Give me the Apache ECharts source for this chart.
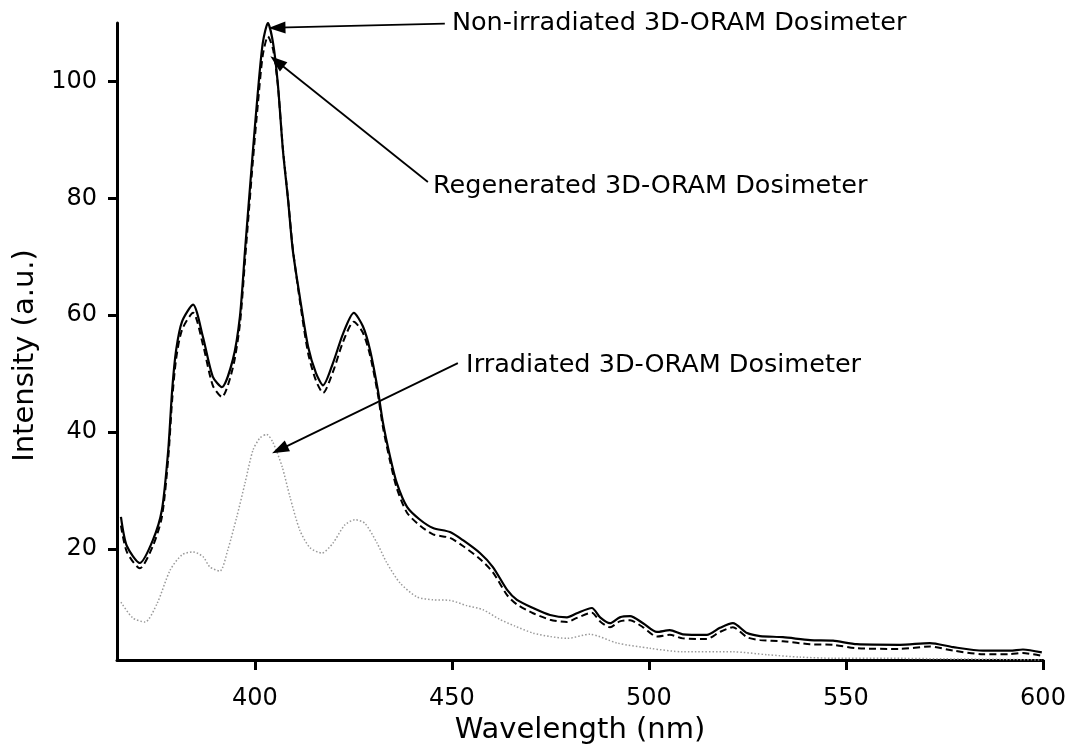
<!DOCTYPE html>
<html>
<head>
<meta charset="utf-8">
<script src="https://cdn.jsdelivr.net/npm/echarts@6/dist/echarts.min.js"></script>
<style>
html,body{margin:0;padding:0;background:#fff;}
#chart{width:1071px;height:750px;}
</style>
</head>
<body>
<div id="chart"></div>
<script>
// ---- data ----
const xTicks = [400, 450, 500, 550, 600];
const yTicks = [20, 40, 60, 80, 100];

const nonIrrX = [366.0,367.5,370.8,374.1,376.4,378.0,379.0,380.0,381.5,384.3,386.8,389.3,391.6,394.4,396.2,397.5,399.5,400.8,402.0,403.3,404.6,405.8,407.1,408.4,409.6,411.4,413.5,415.5,417.3,419.8,422.4,425.1,427.4,429.2,431.2,432.5,434.3,436.0,438.6,441.9,445.2,449.5,452.8,457.1,460.4,464.0,466.5,470.6,474.9,479.2,481.7,485.5,487.6,490.1,492.6,495.2,498.5,502.0,505.3,508.6,514.7,518.0,521.3,524.9,528.2,534.0,540.9,546.7,552.8,563.7,571.3,577.2,584.8,591.6,594.9,599.7];
const nonIrrY = [25.5,20.5,17.6,21.5,26.7,36.9,47.2,54.0,58.9,61.8,56.3,49.5,47.7,52.4,59.8,71.2,88.2,98.6,106.6,110.0,106.6,99.7,88.3,79.8,71.2,63.1,54.6,50.1,48.0,51.8,56.9,60.4,58.1,54.1,47.2,41.6,35.8,31.3,27.2,25.0,23.6,22.9,21.5,19.3,16.9,13.0,11.3,9.9,8.7,8.3,9.0,9.9,8.3,7.3,8.3,8.5,7.3,5.8,6.1,5.4,5.3,6.5,7.3,5.6,5.1,4.9,4.4,4.3,3.7,3.6,3.9,3.2,2.6,2.6,2.8,2.3];

const regenX = nonIrrX;
const regenY = [24.0,19.5,16.7,20.5,25.5,35.5,45.5,52.5,57.5,60.4,55.0,48.0,46.0,51.0,58.5,69.5,86.5,96.5,104.5,107.7,105.5,99.5,88.5,80.0,71.5,62.5,53.5,48.8,46.7,50.3,55.5,58.9,57.0,53.2,46.5,40.8,35.0,30.4,26.2,24.0,22.5,21.9,20.5,18.3,16.0,12.1,10.5,9.0,7.9,7.5,8.2,9.1,7.6,6.6,7.6,7.8,6.6,5.0,5.3,4.7,4.6,5.8,6.6,4.9,4.4,4.2,3.7,3.6,3.0,2.9,3.3,2.6,2.0,2.0,2.2,1.7];

const irrX = [366.0,369.0,372.1,375.2,378.5,381.5,384.3,386.8,388.6,391.1,393.1,395.4,397.5,399.5,401.3,403.0,404.6,406.9,408.9,411.4,414.0,417.0,419.8,422.8,425.4,427.9,431.0,433.5,436.8,441.1,445.2,449.5,453.8,457.9,462.0,466.0,470.6,475.0,479.2,485.0,491.9,500.3,508.6,521.3,530.0,538.3,546.7,560.0,575.0,590.0,599.7];
const irrY = [10.9,8.2,7.5,10.7,16.4,19.0,19.5,18.7,16.9,16.2,19.8,25.5,31.3,36.9,39.0,39.6,38.2,34.1,28.9,23.2,20.2,19.3,21.0,24.1,25.0,24.4,21.0,17.6,14.2,11.8,11.3,11.2,10.3,9.6,8.0,6.8,5.6,5.0,4.7,5.4,3.9,3.0,2.4,2.4,1.9,1.5,1.3,1.3,1.2,1.1,1.0];

// annotations (data coordinates)
const labels = [
  {text: 'Non-irradiated 3D-ORAM Dosimeter', at: [450.0, 109.9], from: [448.2, 109.9], to: [405.6, 109.2]},
  {text: 'Regenerated 3D-ORAM Dosimeter',    at: [445.2, 82.0],  from: [443.9, 82.8],  to: [405.6, 103.4]},
  {text: 'Irradiated 3D-ORAM Dosimeter',     at: [453.6, 51.5],  from: [451.5, 51.8],  to: [406.3, 37.0]}
];

const zip = (xs, ys) => xs.map((x, i) => [x, ys[i]]);
const FONT = 'DejaVu Sans';

const chart = echarts.init(document.getElementById('chart'), null, {renderer: 'canvas'});
const option = {
  animation: false,
  backgroundColor: '#fff',
  grid: {left: 117, right: 28, top: 23, bottom: 90, containLabel: false, outerBoundsMode: 'none'},
  xAxis: {
    type: 'value', min: 365, max: 600,
    name: 'Wavelength (nm)', nameLocation: 'middle', nameGap: 56,
    nameTextStyle: {fontFamily: FONT, fontSize: 29, color: '#000'},
    axisLine: {lineStyle: {color: '#000', width: 3}},
    axisTick: {show: true, length: 10, lineStyle: {color: '#000', width: 3}, customValues: xTicks},
    axisLabel: {margin: 27, fontFamily: FONT, fontSize: 24, color: '#000', customValues: xTicks},
    splitLine: {show: false}
  },
  yAxis: {
    type: 'value', min: 1, max: 110,
    name: 'Intensity (a.u.)', nameLocation: 'middle', nameGap: 73, nameRotate: 90,
    nameTextStyle: {fontFamily: FONT, fontSize: 29, color: '#000', padding: [0, 28, 0, 0]},
    axisLine: {show: true, lineStyle: {color: '#000', width: 3}},
    axisTick: {show: true, length: 9, lineStyle: {color: '#000', width: 3}, customValues: yTicks},
    axisLabel: {margin: 20, fontFamily: FONT, fontSize: 24, color: '#000', customValues: yTicks},
    splitLine: {show: false}
  },
  series: [
    {
      name: 'Non-irradiated', type: 'line', data: zip(nonIrrX, nonIrrY), smooth: 0.25,
      showSymbol: false, lineStyle: {color: '#000', width: 2.2}, z: 3,
      markLine: {
        silent: true, symbol: ['none', 'triangle'], symbolSize: [12, 17],
        label: {show: false},
        lineStyle: {color: '#000', width: 1.8, type: 'solid'},
        data: labels.map(l => [{coord: l.from}, {coord: l.to}])
      }
    },
    {
      name: 'Regenerated', type: 'line', data: zip(regenX, regenY), smooth: 0.25,
      showSymbol: false, lineStyle: {color: '#000', width: 2, type: [7, 4]}, z: 2
    },
    {
      name: 'Irradiated', type: 'line', data: zip(irrX, irrY), smooth: 0.25,
      showSymbol: false, lineStyle: {color: '#9a9a9a', width: 1.5, type: [1.5, 2]}, z: 1
    }
  ]
};
chart.setOption(option);

const g = labels.map(l => {
  const p = chart.convertToPixel({gridIndex: 0}, l.at);
  return {
    type: 'text', x: p[0], y: p[1],
    style: {text: l.text, fontFamily: FONT, fontSize: 25.5, fill: '#000', textAlign: 'left', textVerticalAlign: 'middle'}
  };
});
chart.setOption({graphic: g});
</script>
</body>
</html>
